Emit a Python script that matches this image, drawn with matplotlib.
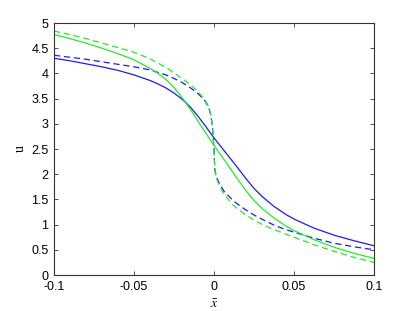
import matplotlib
matplotlib.use('Agg')
import matplotlib.pyplot as plt

# values

# blue, solid
xb = [-0.1, -0.09, -0.08, -0.07, -0.06, -0.05, -0.04, -0.035, -0.03, -0.025, -0.02, -0.015, -0.01, -0.005,
      0.0, 0.005, 0.01, 0.015, 0.02, 0.025, 0.03, 0.0375, 0.045, 0.05, 0.0625, 0.075, 0.0875, 0.1]
yb = [4.30, 4.25, 4.19, 4.13, 4.06, 3.97, 3.86, 3.79, 3.71, 3.61, 3.49, 3.34, 3.15, 2.94,
      2.72, 2.52, 2.32, 2.12, 1.91, 1.72, 1.56, 1.36, 1.20, 1.11, 0.93, 0.79, 0.68, 0.58]

# blue, dashed
xbd = [-0.1, -0.09, -0.08, -0.07, -0.06, -0.05, -0.04, -0.03, -0.025, -0.02, -0.015, -0.01, -0.006,
       -0.0035, -0.002, -0.001, 0.0, 0.0005, 0.0015, 0.003, 0.00625, 0.0125, 0.019, 0.025, 0.031,
       0.0375, 0.044, 0.05, 0.0625, 0.075, 0.0875, 0.1]
ybd = [4.36, 4.32, 4.28, 4.23, 4.18, 4.13, 4.07, 3.97, 3.90, 3.82, 3.72, 3.60, 3.47,
       3.34, 3.18, 2.95, 2.50, 2.10, 1.95, 1.84, 1.66, 1.46, 1.31, 1.19, 1.09,
       0.99, 0.91, 0.85, 0.73, 0.63, 0.56, 0.50]

# green, solid
xg = [-0.1, -0.09, -0.08, -0.07, -0.06, -0.05, -0.04, -0.035, -0.03, -0.025, -0.02, -0.015, -0.01, -0.005,
      0.0, 0.005, 0.01, 0.015, 0.02, 0.025, 0.03, 0.0375, 0.045, 0.05, 0.0625, 0.075, 0.0875, 0.1]
yg = [4.77, 4.69, 4.60, 4.50, 4.39, 4.27, 4.10, 4.00, 3.88, 3.72, 3.52, 3.30, 3.05, 2.81,
      2.57, 2.35, 2.12, 1.89, 1.67, 1.48, 1.32, 1.13, 0.97, 0.88, 0.70, 0.55, 0.43, 0.33]

# green, dashed
xgd = [-0.1, -0.09, -0.08, -0.07, -0.06, -0.05, -0.04, -0.03, -0.025, -0.02, -0.015, -0.01, -0.006,
       -0.0035, -0.002, -0.001, 0.0, 0.0005, 0.0015, 0.003, 0.00625, 0.0125, 0.019, 0.025, 0.031,
       0.0375, 0.044, 0.05, 0.0625, 0.075, 0.0875, 0.1]
ygd = [4.84, 4.77, 4.69, 4.60, 4.51, 4.42, 4.29, 4.12, 4.01, 3.90, 3.78, 3.64, 3.49,
       3.35, 3.18, 2.95, 2.50, 2.08, 1.92, 1.80, 1.60, 1.37, 1.21, 1.09, 0.99,
       0.90, 0.82, 0.75, 0.60, 0.47, 0.35, 0.25]

xticks = [-0.1, -0.05, 0, 0.05, 0.1]
xticklabels = ['-0.1', '-0.05', '0', '0.05', '0.1']
yticks = [0, 0.5, 1, 1.5, 2, 2.5, 3, 3.5, 4, 4.5, 5]
yticklabels = ['0', '0.5', '1', '1.5', '2', '2.5', '3', '3.5', '4', '4.5', '5']

plt.rcParams['font.family'] = ['Liberation Sans', 'DejaVu Sans']
plt.rcParams['mathtext.fontset'] = 'stix'

fig = plt.figure(figsize=(4.14, 3.11), dpi=100)
ax = fig.add_axes([54 / 414, 36 / 311, 320 / 414, 252 / 311])

blue = '#1a1aff'
green = '#22ee22'
dash = (5, 3)
ax.plot(xb, yb, color=blue, lw=0.9)
ax.plot(xbd, ybd, color=blue, lw=0.9, dashes=dash)
ax.plot(xg, yg, color=green, lw=0.9)
ax.plot(xgd, ygd, color=green, lw=0.9, dashes=dash)

ax.set_xlim(-0.1, 0.1)
ax.set_ylim(0, 5)
ax.set_xticks(xticks)
ax.set_xticklabels(xticklabels)
ax.set_yticks(yticks)
ax.set_yticklabels(yticklabels)

for s in ax.spines.values():
    s.set_color('#333333')
    s.set_linewidth(0.8)
ax.tick_params(direction='in', top=True, right=True, length=3, width=0.6,
               color='#333333', labelsize=9)
ax.tick_params(axis='x', pad=4)
ax.tick_params(axis='y', pad=4)

ax.set_xlabel(r'$\bar{x}$', fontsize=10, labelpad=3)
ax.set_ylabel('u', fontsize=10, family='Liberation Serif', labelpad=3)

fig.savefig('out.png', dpi=100)
